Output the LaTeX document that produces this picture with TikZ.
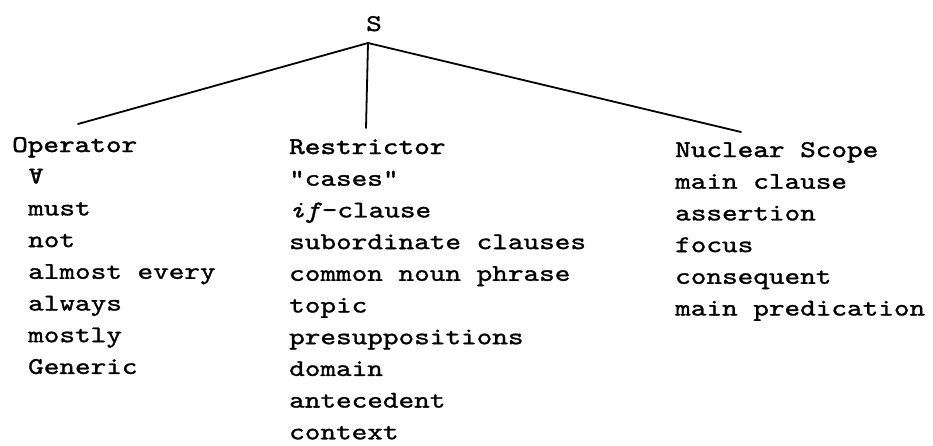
\documentclass[tikz,border=0pt]{standalone}
\usepackage{fontspec}
\usepackage{graphicx}
\setmonofont{lmmono10-regular.otf}[ItalicFont=lmmono10-italic.otf, FakeStretch=1.24, FakeBold=1.2]
\newfontfamily\hdfont{lmmono10-regular.otf}[FakeStretch=1.24, FakeBold=1.6]
\newcommand{\forallsym}{\rotatebox[origin=c]{180}{A}}
\begin{document}
\begin{tikzpicture}[x=1pt,y=-1pt,
  txt/.style={font=\ttfamily\fontsize{24}{28}\selectfont, inner sep=0pt, anchor=base west},
  hd/.style={font=\hdfont\fontsize{24}{28}\selectfont, inner sep=0pt, anchor=base west},
  branch/.style={line width=1.8pt, line cap=round}]
\useasboundingbox (0,0) rectangle (933,445);
% root
\node[txt, anchor=base] (S) at (374,31) {S};
% column headers
\node[hd] (op) at (12,152) {Operator};
\node[hd] (re) at (289,154) {Restrictor};
\node[hd] (ns) at (675,157) {Nuclear Scope};
% branch points
\coordinate (apex) at (368,43);
\coordinate (endL) at (78,124);
\coordinate (endM) at (366,128);
\coordinate (endR) at (741,132);
\draw[branch] (apex) -- (endL);
\draw[branch] (apex) -- (endM);
\draw[branch] (apex) -- (endR);
% operator items
\foreach \t [count=\i] in {\forallsym, must, not, almost every, always, mostly, Generic}
  \node[txt] (op\i) at (28,152+31.7*\i) {\t};
% restrictor items
\foreach \t [count=\i] in {"cases", {\textit{if}-clause}, subordinate clauses, common noun phrase, topic, presuppositions, domain, antecedent, context}
  \node[txt] (re\i) at (289,154+31.7*\i) {\t};
% nuclear scope items
\foreach \t [count=\i] in {main clause, assertion, focus, consequent, main predication}
  \node[txt] (ns\i) at (675,157+31.7*\i) {\t};
\end{tikzpicture}
\end{document}
